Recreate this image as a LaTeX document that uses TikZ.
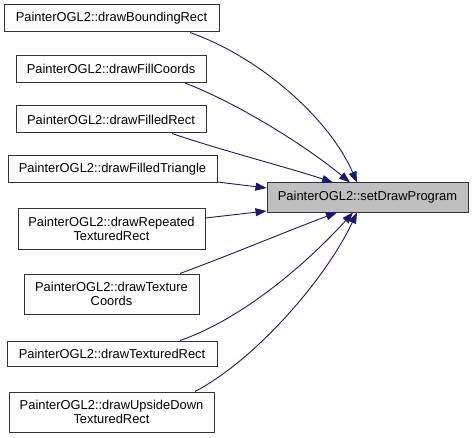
\documentclass[tikz,border=0pt]{standalone}
\usepackage{fontspec}
\setmainfont{Liberation Sans}
\usetikzlibrary{arrows.meta}
\definecolor{edgeblue}{RGB}{25,25,112}
\definecolor{boxgray}{RGB}{191,191,191}
\begin{document}
\begin{tikzpicture}[x=1pt,y=-1pt,
  fn/.style={draw=black!80, line width=1pt, fill=white, inner sep=0pt, align=center,
    font=\fontsize{12.9}{14.5}\selectfont, minimum height=27pt},
  fn2/.style={fn, minimum height=40pt},
  target/.style={fn, fill=boxgray, minimum height=29pt},
  call/.style={draw=edgeblue, line width=0.9pt, -{Triangle[length=11pt,width=8pt]}, fill=none}
]
\useasboundingbox (0,0) rectangle (473,438);
\node[fn, minimum width=215pt] (b1) at (111.5,18.5) {PainterOGL2::drawBoundingRect};
\node[fn, minimum width=190pt] (b2) at (111,69) {PainterOGL2::drawFillCoords};
\node[fn, minimum width=190pt] (b3) at (111,119.5) {PainterOGL2::drawFilledRect};
\node[fn, minimum width=209pt] (b4) at (112.5,169.5) {PainterOGL2::drawFilledTriangle};
\node[fn2, minimum width=187pt] (b5) at (111.5,229) {PainterOGL2::drawRepeated\\TexturedRect};
\node[fn2, minimum width=175pt] (b6) at (111.5,294) {PainterOGL2::drawTexture\\Coords};
\node[fn, minimum width=210pt, minimum height=25pt] (b7) at (112,353.5) {PainterOGL2::drawTexturedRect};
\node[fn2, minimum width=205pt] (b8) at (111.5,412) {PainterOGL2::drawUpsideDown\\TexturedRect};
\node[target, minimum width=201pt] (t) at (367.5,197.5) {PainterOGL2::setDrawProgram};

\draw[call] ([xshift=78.5pt]b1.south) .. controls (262,58) and (330,120) .. ([xshift=-10.5pt]t.north);
\draw[call] ([xshift=74pt]b2.south) .. controls (235,102) and (305,145) .. ([xshift=-17.5pt]t.north);
\draw[call] ([xshift=61pt]b3.south) .. controls (220,150) and (290,168) .. ([xshift=-34.5pt]t.north);
\draw[call] ([yshift=-12.5pt]b4.east) -- ([yshift=9.5pt]t.west);
\draw[call] ([yshift=11pt]b5.east) -- ([yshift=-13.5pt]t.west);
\draw[call] ([xshift=68.5pt]b6.north) .. controls (230,255) and (290,230) .. ([xshift=-30.5pt]t.south);
\draw[call] ([xshift=68pt]b7.north) .. controls (245,318) and (310,260) .. ([xshift=-14.5pt]t.south);
\draw[call] ([xshift=83.5pt]b8.north) .. controls (255,360) and (325,280) .. ([xshift=-10.5pt]t.south);
\end{tikzpicture}
\end{document}
